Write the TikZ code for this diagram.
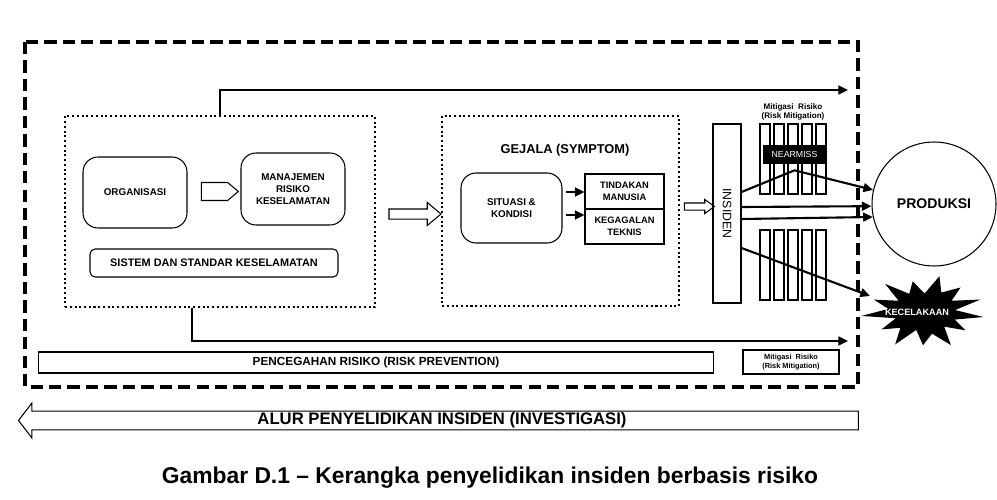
\documentclass[tikz,border=0pt]{standalone}
\usepackage{fontspec}
\setmainfont{Liberation Sans}
\usetikzlibrary{arrows.meta,shapes.arrows,positioning}

\begin{document}
\begin{tikzpicture}[x=0.02cm, y=-0.02cm,
  >={Triangle[length=5.5pt,width=5pt]},
  every node/.style={font=\bfseries\fontsize{5.6}{6.8}\selectfont, align=center, inner sep=0pt},
  box/.style={draw, line width=0.6pt},
  rbox/.style={box, rounded corners=0.3cm, minimum width=2.08cm},
  dotbox/.style={draw, line width=1.15pt, dash pattern=on 1.15pt off 1.55pt},
  col/.style={box, minimum width=0.2cm, minimum height=1.4cm},
  flow/.style={->, very thick},
  hollow/.style={single arrow, draw, line width=0.6pt, single arrow head indent=0pt}]
  \useasboundingbox (0,0) rectangle (997,500);

  \draw[line width=2.2pt, dash pattern=on 7pt off 3.5pt] (25,42) rectangle (858,387);

  \node[dotbox, minimum width=6.2cm, minimum height=3.82cm] (orgbox) at (220,211.5) {};
  \node[rbox, minimum height=1.42cm] (org) at (135,192.5) {ORGANISASI};
  \node[rbox, minimum height=1.44cm] (mrk) at (293,189) {MANAJEMEN\\RISIKO\\KESELAMATAN};
  \node[hollow, single arrow head extend=0pt, single arrow tip angle=80, inner ysep=0.17cm,
        minimum height=0.74cm, minimum width=0.34cm] (orgarrow) at (214.5,191.5) {};
  \node[box, rounded corners=0.1cm, minimum width=4.96cm, minimum height=0.56cm,
        font=\bfseries\fontsize{6.2}{7}\selectfont] (sistem) at (214,263) {SISTEM DAN STANDAR KESELAMATAN};

  \node[hollow, single arrow head extend=0.13cm, single arrow tip angle=80, inner ysep=0.09cm,
        minimum height=1.04cm, minimum width=0.44cm] (symarrow) at (412,214) {};

  \node[dotbox, minimum width=4.74cm, minimum height=3.8cm] (symbox) at (560.5,211) {};
  \node[font=\bfseries\fontsize{7.3}{8.5}\selectfont] (gejala) at (565,150) {GEJALA (SYMPTOM)};
  \node[box, rounded corners=0.3cm, minimum width=2.02cm, minimum height=1.4cm] (situasi) at (511.5,208) {SITUASI \&\\KONDISI};
  \node[box, minimum width=1.58cm, minimum height=0.7cm, font=\bfseries\fontsize{5.3}{6.6}\selectfont] (tindakan) at (624.5,191.5) {TINDAKAN\\MANUSIA};
  \node[box, minimum width=1.58cm, minimum height=0.7cm, font=\bfseries\fontsize{5.3}{6.6}\selectfont] (teknis) at (624.5,226.5) {KEGAGALAN\\TEKNIS};
  \draw[flow, shorten <=0.06cm] ([yshift=0.32cm]situasi.east) -- ([yshift=0.32cm]situasi.east -| tindakan.west);
  \draw[flow, shorten <=0.06cm] ([yshift=-0.14cm]situasi.east) -- ([yshift=-0.14cm]situasi.east -| teknis.west);

  \node[hollow, single arrow head extend=0.07cm, single arrow tip angle=72, inner ysep=0.06cm,
        minimum height=0.6cm, minimum width=0.26cm] (insarrow) at (697,206.5) {};
  \node[box, minimum width=0.56cm, minimum height=3.58cm] (insiden) at (727,213.5) {};
  \node[rotate=-90, font=\fontsize{7}{8}\selectfont] (insidenlabel) at (insiden) {INSIDEN};

  \foreach \x [count=\k] in {765,779,793,807,821} {
    \node[col] (up\k) at (\x,159) {};
    \node[col] (lo\k) at (\x,265) {};
  }
  \node[font=\bfseries\fontsize{4.6}{5.3}\selectfont] (mitlabel) at (793,112) {Mitigasi\ \ Risiko\\(Risk Mitigation)};
  \node[fill=black, text=white, font=\fontsize{5}{6}\selectfont,
        minimum width=1.26cm, minimum height=0.38cm] (nearmiss) at (794.5,154.5) {NEARMISS};

  \node[circle, draw, line width=0.6pt, minimum size=2.48cm,
        font=\bfseries\fontsize{8}{9}\selectfont] (produksi) at (934,204) {PRODUKSI};

  \fill[black, shift={(924,312)}] (8:60 and 36)
    \foreach \i/\r [evaluate=\i as \a using 8+\i*13.846,
                    evaluate=\r as \rx using 60*\r,
                    evaluate=\r as \ry using 37*\r] in
      {1/0.55,2/0.85,3/0.52,4/1.0,5/0.6,6/0.9,7/0.5,8/1.0,9/0.58,10/0.85,11/0.5,12/1.05,13/0.6,
       14/0.9,15/0.52,16/1.0,17/0.55,18/0.85,19/0.5,20/1.0,21/0.6,22/0.9,23/0.55,24/1.0,25/0.52}
      { -- (\a:{\rx} and {\ry}) } -- cycle;
  \node[text=white, font=\bfseries\fontsize{5.2}{6}\selectfont] (kecel) at (917,312) {KECELAKAAN};
  \coordinate (kecelin) at (870,296);

  \draw[flow] ([yshift=0.43cm]insiden.east) -- ([yshift=-0.12cm]nearmiss.south) -- (produksi.167);
  \draw[flow] ([yshift=0.13cm]insiden.east) -- (produksi.182);
  \draw[flow] ([yshift=-0.11cm]insiden.east) -- (produksi.192);
  \draw[flow] ([yshift=-0.69cm]insiden.east) -- (kecelin);

  \coordinate (topend) at (848,90);
  \coordinate (botend) at (848,341);
  \draw[flow] (orgbox.north) |- (topend);
  \draw[flow] ([xshift=-0.56cm]orgbox.south) |- (botend);

  \node[box, minimum width=13.52cm, minimum height=0.42cm,
        font=\bfseries\fontsize{6.7}{7.5}\selectfont] (prevent) at (376,362.5) {PENCEGAHAN RISIKO (RISK PREVENTION)};
  \node[box, minimum width=1.92cm, minimum height=0.48cm,
        font=\bfseries\fontsize{4.2}{5}\selectfont] (mitigate) at (791,362) {Mitigasi\ \ Risiko\\(Risk Mitigation)};

  \node[hollow, shape border rotate=180, single arrow head extend=0.16cm, single arrow tip angle=105,
        inner ysep=0.02cm, minimum height=16.8cm, minimum width=0.68cm,
        font=\bfseries\fontsize{9.5}{10.5}\selectfont] (alur) at (442,420.5) {ALUR PENYELIDIKAN INSIDEN (INVESTIGASI)};

  \node[font=\bfseries\fontsize{13}{15}\selectfont] (caption) at (490,478) {Gambar D.1 – Kerangka penyelidikan insiden berbasis risiko};
\end{tikzpicture}
\end{document}
